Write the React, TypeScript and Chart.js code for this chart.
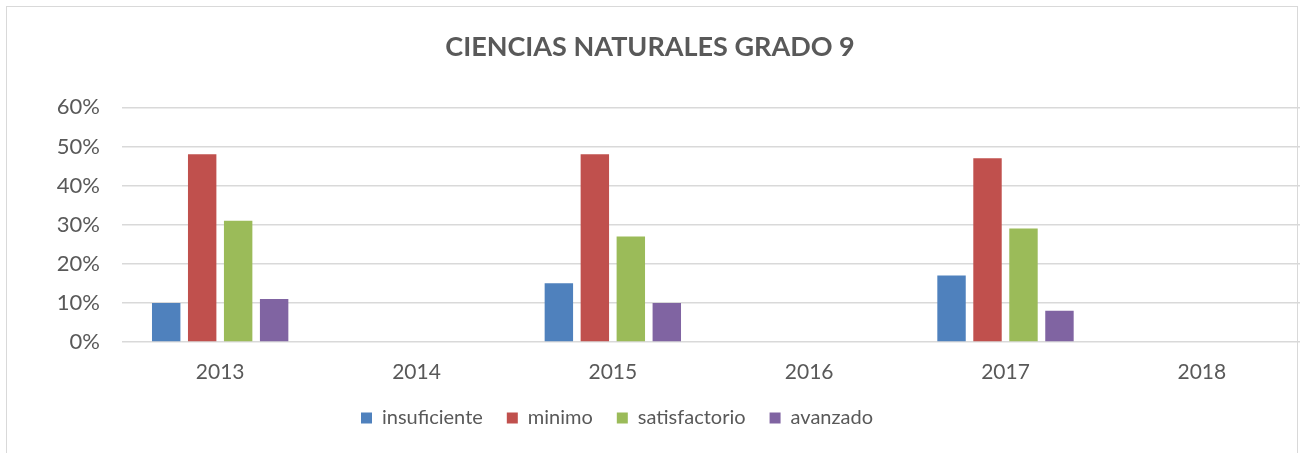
import React, { useEffect, useRef } from "react";
import { Chart, registerables } from "chart.js";

Chart.register(...registerables);

const categories = ["2013", "2014", "2015", "2016", "2017", "2018"];
const insuficiente = [10, null, 15, null, 17, null];
const minimo = [48, null, 48, null, 47, null];
const satisfactorio = [31, null, 27, null, 29, null];
const avanzado = [11, null, 10, null, 8, null];
const seriesNames = ["insuficiente", "minimo", "satisfactorio", "avanzado"];
const seriesColors = ["#4f81bd", "#c0504d", "#9bbb59", "#8064a2"];
const titleText = "CIENCIAS NATURALES GRADO 9";

const FONT = "Lato, 'Open Sans', sans-serif";
const TEXT = "#595959";

export default function App() {
  const ref = useRef<HTMLCanvasElement | null>(null);

  useEffect(() => {
    document.body.style.margin = "0";
    const canvas = ref.current;
    if (!canvas) return;
    const seriesData = [insuficiente, minimo, satisfactorio, avanzado];
    const shiftLegend = {
      id: "shiftLegend",
      afterLayout(chart: any) {
        const lg = chart.legend;
        if (lg) {
          lg.left -= 33;
          lg.right -= 33;
        }
      },
    };
    const chart = new Chart(canvas, {
      type: "bar",
      data: {
        labels: categories,
        datasets: seriesData.map((d, i) => ({
          label: seriesNames[i],
          data: d,
          backgroundColor: seriesColors[i],
          borderWidth: 0,
          categoryPercentage: 0.733,
          barPercentage: 0.79,
        })),
      },
      options: {
        responsive: false,
        animation: false,
        layout: { padding: { top: 0, left: 0, right: 4, bottom: 15 } },
        plugins: {
          title: {
            display: true,
            text: titleText,
            color: TEXT,
            font: { family: FONT, size: 27, weight: "bold", lineHeight: 1.2 },
            padding: { top: 31, bottom: 44 },
          },
          legend: {
            position: "bottom",
            labels: {
              color: TEXT,
              font: { family: FONT, size: 20 },
              boxWidth: 11,
              boxHeight: 11,
              padding: 24,
            },
          },
          tooltip: { enabled: false },
        },
        scales: {
          x: {
            afterFit(scale: any) {
              scale.height = 42;
            },
            grid: { display: false, drawTicks: false },
            border: { display: false },
            ticks: {
              color: TEXT,
              font: { family: FONT, size: 21, lineHeight: 1.2 },
              padding: 18,
            },
          },
          y: {
            min: 0,
            max: 60,
            afterFit(scale: any) {
              scale.width = 122;
            },
            grid: { color: "#d9d9d9", lineWidth: 1.5, drawTicks: false },
            border: { display: false },
            ticks: {
              stepSize: 10,
              color: TEXT,
              font: { family: FONT, size: 22 },
              padding: 22,
              callback: (v: any) => v + "%",
            },
          },
        },
      },
      plugins: [shiftLegend],
    });
    return () => chart.destroy();
  }, []);

  return (
    <div style={{ position: "relative", width: 1304, height: 453, overflow: "hidden", background: "#fff" }}>
      <div
        style={{
          position: "absolute",
          left: 6,
          top: 6,
          width: 1292,
          height: 470,
          border: "1.5px solid #d9d9d9",
          boxSizing: "border-box",
        }}
      />
      <canvas ref={ref} width={1304} height={453} style={{ position: "absolute", left: 0, top: 0 }} />
    </div>
  );
}
